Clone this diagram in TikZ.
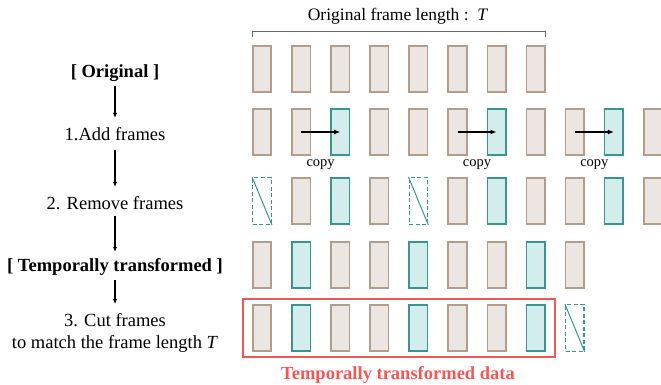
\documentclass[tikz,border=0pt]{standalone}
\usepackage{fontspec}
\setmainfont{Liberation Serif}[BoldFont={Liberation Serif Bold}, ItalicFont={Liberation Serif Italic}]
\usetikzlibrary{arrows.meta,fit,calc}
\definecolor{brownE}{HTML}{B29C8B}
\definecolor{brownF}{HTML}{ECE6E2}
\definecolor{tealE}{HTML}{3A958F}
\definecolor{tealF}{HTML}{D2EDEB}
\definecolor{redT}{HTML}{F25757}
\definecolor{brk}{HTML}{666666}
\begin{document}
\begin{tikzpicture}[x=1pt,y=-1pt,
  fr/.style={rectangle, minimum width=18.5pt, minimum height=46.5pt, inner sep=0pt, line width=1.6pt},
  frO/.style={fr, draw=brownE, fill=brownF},
  frC/.style={fr, draw=tealE, fill=tealF},
  frR/.style={fr, draw=tealE, fill=white, line width=1.3pt, dash pattern=on 4pt off 2.5pt},
  labbase/.style={font=\fontsize{18.5}{22}\selectfont, align=center, inner sep=0pt},
  lab/.style={labbase, text height=13pt, text depth=4pt},
  flow/.style={-{Latex[length=5pt,width=4.5pt]}, line width=1.3pt, black},
  cparrow/.style={-{Latex[length=6pt,width=5pt]}, line width=1.3pt, black},
  cplab/.style={font=\fontsize{14.5}{16}\selectfont, inner sep=0pt},
]
\useasboundingbox (0,0) rectangle (661,385);

% --- left labels
\node[lab, anchor=base] (orig) at (115,78) {\textbf{[ Original ]}};
\node[lab, anchor=base] (add) at (115,141) {1.Add frames};
\node[lab, anchor=base] (rem) at (115,209) {2. Remove frames};
\node[lab, anchor=base] (temp) at (115,271) {\textbf{[ Temporally transformed ]}};
\node[labbase, anchor=north] (cut) at (115,313) {3. Cut frames\\to match the frame length \textit{T}};

\draw[flow, shorten <=4pt, shorten >=10pt] (orig) -- (add);
\draw[flow, shorten <=5pt, shorten >=9pt] (add) -- (rem);
\draw[flow, shorten <=3pt, shorten >=6pt] (rem) -- (temp);
\draw[flow, shorten <=5pt, shorten >=9pt] (temp) -- (cut);

% --- row 1 (original)
\foreach \i in {0,...,7} \node[frO] (r1c\i) at ({262+39.1*\i},69) {};
% --- row 2 (add)
\foreach \i in {0,1,3,4,5,7,8,10} \node[frO] (r2c\i) at ({262+39.1*\i},132) {};
\foreach \i in {2,6,9} \node[frC] (r2c\i) at ({262+39.1*\i},132) {};
% --- row 3 (remove)
\foreach \i in {1,3,5,7,8,10} \node[frO] (r3c\i) at ({262+39.1*\i},201) {};
\foreach \i in {2,6,9} \node[frC] (r3c\i) at ({262+39.1*\i},201) {};
\foreach \i in {0,4} {
  \node[frR] (r3c\i) at ({262+39.1*\i},201) {};
  \draw[tealE, line width=1pt] (r3c\i.north west) -- (r3c\i.south east);
}
% --- row 4 (temporally transformed)
\foreach \i in {0,2,3,5,6,8} \node[frO] (r4c\i) at ({262+39.1*\i},265) {};
\foreach \i in {1,4,7} \node[frC] (r4c\i) at ({262+39.1*\i},265) {};
% --- row 5 (cut)
\foreach \i in {0,2,3,5,6} \node[frO] (r5c\i) at ({262+39.1*\i},328) {};
\foreach \i in {1,4,7} \node[frC] (r5c\i) at ({262+39.1*\i},328) {};
\node[frR] (r5c8) at ({262+39.1*8},328) {};
\draw[tealE, line width=1pt] (r5c8.north west) -- (r5c8.south east);

% --- copy arrows
\draw[cparrow] (r2c1.center) -- (r2c2.center);
\draw[cparrow] (r2c5.center) -- (r2c6.center);
\draw[cparrow] (r2c8.center) -- (r2c9.center);
\node[cplab, anchor=base] (cp1) at ($(r2c1.center)!0.5!(r2c2.center)+(0,34)$) {copy};
\node[cplab, anchor=base] (cp2) at ($(r2c5.center)!0.5!(r2c6.center)+(0,34)$) {copy};
\node[cplab, anchor=base] (cp3) at ($(r2c8.center)!0.5!(r2c9.center)+(0,34)$) {copy};

% --- bracket and title
\coordinate (bl) at ([yshift=13pt]r1c0.north west);
\coordinate (br) at ([yshift=13pt]r1c7.north east);
\draw[brk, line width=0.9pt] ([yshift=-5pt]bl) -- (bl) -- (br) -- ([yshift=-5pt]br);
\node[font=\fontsize{17.5}{20}\selectfont, inner sep=0pt, anchor=base] (title) at (398,21) {Original frame length :\, \textit{T}};

% --- red box
\node[fit=(r5c0)(r5c7), draw=redT, line width=1.5pt, inner xsep=9pt, inner ysep=5pt] (box) {};
\node[font=\fontsize{18.5}{22}\selectfont\bfseries, text=redT, inner sep=0pt, anchor=base] (boxlab) at (398,379) {Temporally transformed data};
\end{tikzpicture}
\end{document}
